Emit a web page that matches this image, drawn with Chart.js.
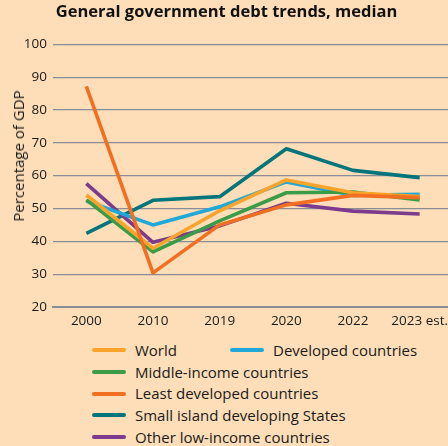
<!DOCTYPE html>
<html>
<head>
<meta charset="utf-8">
<script src="https://cdn.jsdelivr.net/npm/chart.js@4/dist/chart.umd.min.js"></script>
<style>
  html, body { margin: 0; padding: 0; background: #FDDEB8; overflow: hidden; }
  #wrap { position: relative; width: 448px; height: 446px; overflow: hidden; background: #FDDEB8; font-family: "Open Sans", sans-serif; color: #1a1a1a; }
  #box { position: absolute; left: 0; top: 0; width: 456px; height: 335px; }
  #ytitle { position: absolute; left: 18px; top: 156px; transform: translate(-50%, -50%) rotate(-90deg); white-space: nowrap; font-size: 15px; }
  .leg { position: absolute; font-size: 15px; white-space: nowrap; line-height: 18px; }
  .sw { position: absolute; height: 4px; border-radius: 2px; }
</style>
</head>
<body>
<div id="wrap">
  <div id="box"><canvas id="c"></canvas></div>
  <div id="ytitle">Percentage of GDP</div>
  <div id="legend"></div>
</div>
<script>
// Median general government debt, % of GDP
const years = ['2000', '2010', '2019', '2020', '2022', '2023 est.'];
const world          = [54.1, 37.9, 49.3, 58.7, 54.8, 53.6];
const developed      = [52.3, 45.0, 50.5, 58.1, 54.0, 54.3];
const middleIncome   = [52.6, 36.8, 46.2, 54.8, 55.0, 52.6];
const leastDeveloped = [87.2, 30.4, 45.0, 51.1, 54.0, 53.3];
const smallIsland    = [42.4, 52.5, 53.6, 68.2, 61.6, 59.4];
const otherLowIncome = [57.6, 39.7, 44.7, 51.6, 49.2, 48.3];
const yTicks = [20, 30, 40, 50, 60, 70, 80, 90, 100];

const series = [
  { label: 'World', data: world, color: '#F8A42A', order: 1 },
  { label: 'Developed countries', data: developed, color: '#1FA8D8', order: 3 },
  { label: 'Middle-income countries', data: middleIncome, color: '#3A9C46', order: 2 },
  { label: 'Least developed countries', data: leastDeveloped, color: '#F26F22', order: 0 },
  { label: 'Small island developing States', data: smallIsland, color: '#04767B', order: 5 },
  { label: 'Other low-income countries', data: otherLowIncome, color: '#7C3B8C', order: 4 }
];

const gridColor = '#8A8D96';

new Chart(document.getElementById('c'), {
  type: 'line',
  data: {
    labels: years,
    datasets: series.map(s => ({
      label: s.label,
      data: s.data,
      borderColor: s.color,
      backgroundColor: s.color,
      borderWidth: 3.6,
      pointRadius: 0,
      tension: 0,
      borderJoinStyle: 'round',
      order: s.order,
      clip: false
    }))
  },
  options: {
    responsive: true,
    maintainAspectRatio: false,
    animation: false,
    layout: { padding: { top: 0, left: 0, right: 3, bottom: 0 } },
    plugins: {
      legend: { display: false },
      tooltip: { enabled: false },
      title: {
        display: true,
        text: 'General government debt trends, median',
        color: '#111',
        font: { family: 'Open Sans', size: 16.5, weight: 'bold', lineHeight: 1.2 },
        padding: { top: 2, bottom: 22.5 }
      }
    },
    scales: {
      x: {
        offset: true,
        grid: { display: false, drawTicks: false },
        border: { display: true, color: gridColor, width: 2 },
        ticks: { color: '#1a1a1a', font: { family: 'Open Sans', size: 13.5 }, padding: 6, maxRotation: 0, autoSkip: false },
        afterFit: s => { s.height = 28; }
      },
      y: {
        min: 20, max: 100,
        afterBuildTicks: s => { s.ticks = yTicks.map(v => ({ value: v })); },
        grid: { color: gridColor, lineWidth: 1.2, drawTicks: false },
        border: { display: false },
        ticks: { color: '#1a1a1a', font: { family: 'Open Sans', size: 13.5 }, padding: 6 },
        afterFit: s => { s.width = 53; }
      }
    }
  }
});

// Legend: first row holds two entries, the rest one per row
const legendRows = [
  [{ i: 0, x: 92, tx: 135 }, { i: 1, x: 230, tx: 273 }],
  [{ i: 2, x: 92, tx: 135 }],
  [{ i: 3, x: 92, tx: 135 }],
  [{ i: 4, x: 92, tx: 135 }],
  [{ i: 5, x: 92, tx: 135 }]
];
const rowY = [350, 372, 393.5, 415, 437];
const leg = document.getElementById('legend');
legendRows.forEach((row, r) => {
  row.forEach(item => {
    const s = series[item.i];
    const sw = document.createElement('div');
    sw.className = 'sw';
    sw.style.left = item.x + 'px';
    sw.style.width = '34px';
    sw.style.top = (rowY[r] - 2) + 'px';
    sw.style.background = s.color;
    leg.appendChild(sw);
    const t = document.createElement('div');
    t.className = 'leg';
    t.style.left = item.tx + 'px';
    t.style.top = (rowY[r] - 9.5) + 'px';
    t.textContent = s.label;
    leg.appendChild(t);
  });
});
</script>
</body>
</html>
